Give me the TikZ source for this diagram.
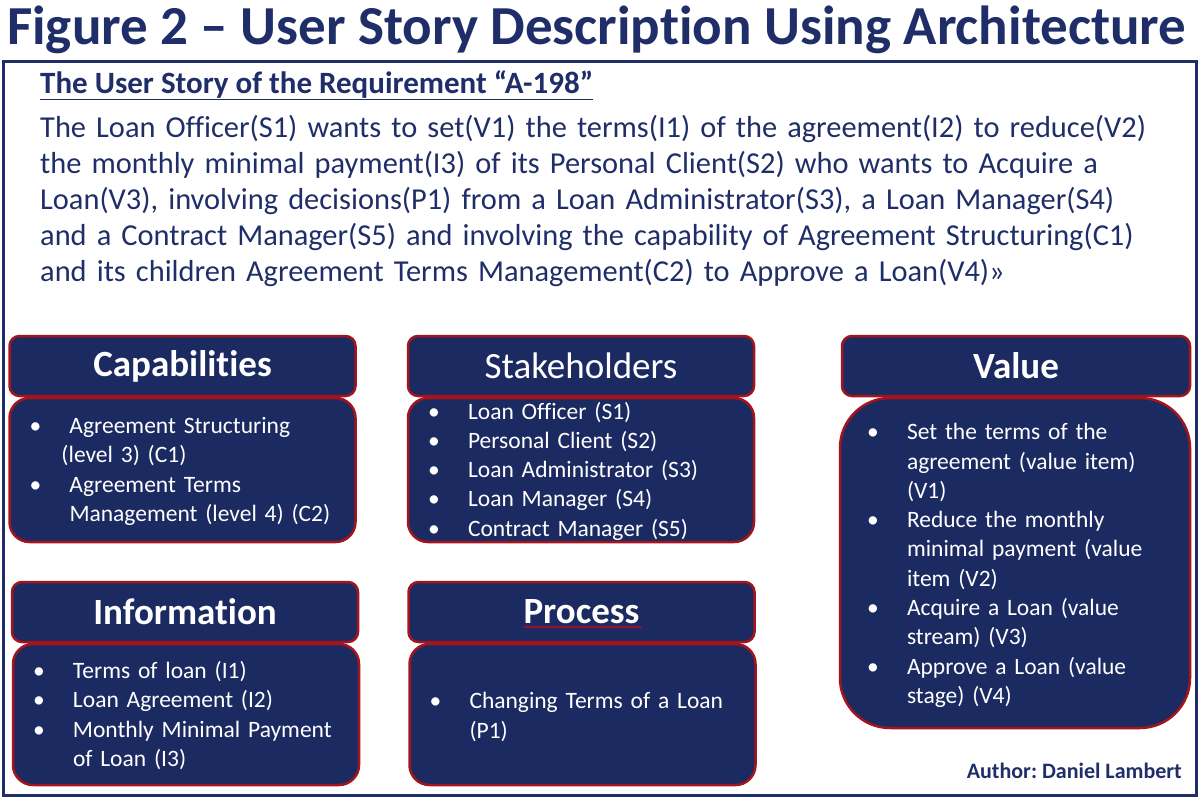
\documentclass[tikz,border=0pt]{standalone}
\usepackage{fontspec}
\setmainfont{Carlito}[Ligatures=NoCommon]
\usetikzlibrary{positioning,decorations.pathmorphing}
\frenchspacing

\definecolor{navy}{HTML}{1C2A62}
\definecolor{inkblue}{HTML}{1F2E68}
\definecolor{boxred}{HTML}{A3141C}

\newlength{\bhang}
\setlength{\bhang}{40pt}
\newcommand{\bitem}[1]{\par\hangindent=\bhang\noindent
  \makebox[\bhang][l]{\textbullet}#1\par}

\begin{document}
\begin{tikzpicture}[x=1pt, y=-1pt,
  head/.style={rectangle, draw=boxred, fill=navy, line width=2.5pt,
    rounded corners=10pt, minimum width=346pt, minimum height=60pt,
    text=white, font=\fontsize{37}{40}\selectfont\bfseries},
  boxbody/.style={rectangle, draw=boxred, fill=navy, line width=2.5pt,
    rounded corners=20pt, minimum width=346pt},
  listtext/.style={text width=306pt, text=white, align=left,
    font=\fontsize{23.5}{29.3}\selectfont},
  story/.style={text=inkblue, anchor=base west, inner sep=0pt}
]
  \useasboundingbox (0,0) rectangle (1200,800);

  % title and frame
  \node[story, font=\fontsize{55}{60}\selectfont\bfseries] (title)
    at (7,45) {Figure 2 -- User Story Description Using Architecture};
  \draw[inkblue, line width=3pt] (3,62) rectangle (1196,795);

  \node[story, font=\fontsize{31}{34}\selectfont\bfseries] (storyhd)
    at (40,93) {\underline{The User Story of the Requirement “A-198”}};
  \node[story, text width=1150pt, align=left,
    font=\fontsize{30.4}{36.2}\selectfont] (storytxt) at (40,137)
    {The Loan Officer(S1) wants to set(V1) the terms(I1) of the agreement(I2) to reduce(V2)\\
     the monthly minimal payment(I3) of its Personal Client(S2) who wants to Acquire a\\
     Loan(V3), involving decisions(P1) from a Loan Administrator(S3), a Loan Manager(S4)\\
     and a Contract Manager(S5) and involving the capability of Agreement Structuring(C1)\\
     and its children Agreement Terms Management(C2) to Approve a Loan(V4)»};

  % top row
  \node[head] (caphd) at (182.5,366) {Capabilities};
  \node[boxbody, minimum height=144pt] (capbody) at (182.5,470) {};
  \node[listtext] (captxt) at ([yshift=5pt]capbody.center)
    {\bitem{Agreement Structuring\newline\hspace*{-8pt}(level 3) (C1)}
     \bitem{Agreement Terms\newline Management (level 4) (C2)}};

  \node[head, font=\fontsize{37}{40}\selectfont] (stakehd) at (581,366)
    {Stakeholders};
  \node[boxbody, minimum height=144pt] (stakebody) at (581,470) {};
  \node[listtext] (staketxt) at ([yshift=5pt]stakebody.center)
    {\bitem{Loan Officer (S1)}
     \bitem{Personal Client (S2)}
     \bitem{Loan Administrator (S3)}
     \bitem{Loan Manager (S4)}
     \bitem{Contract Manager (S5)}};

  \node[head, minimum width=348pt] (valhd) at (1016,366) {Value};
  \node[boxbody, minimum width=350pt, minimum height=330pt,
    rounded corners=50pt] (valbody) at (1015,563) {};
  \node[listtext, text width=296pt] (valtxt) at ([yshift=4pt]valbody.center)
    {\bitem{Set the terms of the\newline agreement (value item)\newline (V1)}
     \bitem{Reduce the monthly\newline minimal payment (value\newline item (V2)}
     \bitem{Acquire a Loan (value\newline stream) (V3)}
     \bitem{Approve a Loan (value\newline stage) (V4)}};

  % bottom row
  \node[head] (infohd) at (185,612) {Information};
  \node[boxbody, minimum height=141pt] (infobody) at (186,714.5) {};
  \node[listtext] (infotxt) at ([yshift=5pt]infobody.center)
    {\bitem{Terms of loan (I1)}
     \bitem{Loan Agreement (I2)}
     \bitem{Monthly Minimal Payment\newline of Loan (I3)}};

  \node[head] (prochd) at (581.5,612) {Process};
  \node[boxbody, minimum height=141pt] (procbody) at (582.5,714.5) {};
  \node[listtext] (proctxt) at ([yshift=4pt]procbody.center)
    {\bitem{Changing Terms of a Loan\newline (P1)}};
  \draw[red, line width=0.6pt, decorate,
    decoration={snake, amplitude=0.8pt, segment length=3pt}]
    ([shift={(-58,15)}]prochd.center) -- ([shift={(60,15)}]prochd.center);

  \node[story, anchor=base east, font=\fontsize{22}{26}\selectfont\bfseries]
    (author) at (1182,778) {Author: Daniel Lambert};
\end{tikzpicture}
\end{document}
